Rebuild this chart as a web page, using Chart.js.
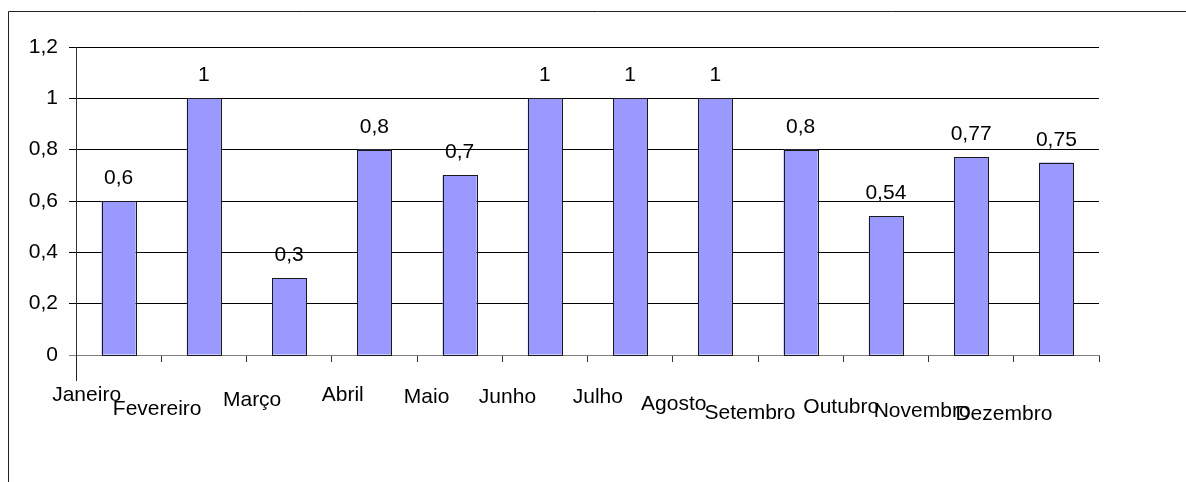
<!DOCTYPE html>
<html>
<head>
<meta charset="utf-8">
<script src="https://cdn.jsdelivr.net/npm/chart.js@4/dist/chart.umd.min.js"></script>
<style>
  html, body { margin: 0; padding: 0; background: #fff; }
  #wrap { width: 1186px; height: 482px; position: relative; }
</style>
</head>
<body>
<div id="wrap"><canvas id="c" width="1186" height="482"></canvas></div>
<script>
// ---- data ----
const categories = ['Janeiro','Fevereiro','Março','Abril','Maio','Junho','Julho','Agosto','Setembro','Outubro','Novembro','Dezembro'];
const values = [0.6, 1, 0.3, 0.8, 0.7, 1, 1, 1, 0.8, 0.54, 0.77, 0.75];
const yTicks = [0, 0.2, 0.4, 0.6, 0.8, 1, 1.2];

// ---- label placement (style) ----
const labelDx = [-32, -46.7, -37, -31.6, -33, -37.4, -32.3, -41.6, -50.6, -44.6, -49, -52.5];
const labelDy = [46, 60, 51, 46, 48, 48, 48, 55, 64, 58, 62, 65];

const FONT_FAMILY = '"Liberation Sans", Arial, sans-serif';
const FONT_SIZE = 21;
const fmt = v => String(Number(v.toFixed(2))).replace('.', ',');

const decorPlugin = {
  id: 'decor',
  afterDatasetsDraw(chart) {
    // crisp outlines around the library's own bar elements
    const ctx = chart.ctx;
    const meta = chart.getDatasetMeta(0);
    ctx.save();
    ctx.strokeStyle = '#1a1a1a';
    ctx.lineWidth = 1;
    meta.data.forEach(bar => {
      const l = Math.round(bar.x - bar.width / 2);
      const r = Math.round(bar.x + bar.width / 2);
      const t = Math.round(bar.y);
      const b = Math.round(bar.base);
      ctx.strokeRect(l + 0.5, t + 0.5, r - l, b - t);
    });
    ctx.restore();
  },
  afterDraw(chart) {
    const ctx = chart.ctx;
    const area = chart.chartArea;
    const xs = chart.scales.x;
    ctx.save();
    // outer border (top and left; right/bottom lie beyond the window)
    ctx.strokeStyle = '#222';
    ctx.lineWidth = 1;
    ctx.beginPath();
    ctx.moveTo(8.5, chart.height + 1);
    ctx.lineTo(8.5, 11.5);
    ctx.lineTo(chart.width + 1, 11.5);
    ctx.stroke();
    // long first tick below the axis
    const lx = Math.round(area.left) + 0.5;
    ctx.strokeStyle = '#222';
    ctx.beginPath();
    ctx.moveTo(lx, area.bottom);
    ctx.lineTo(lx, area.bottom + 26);
    ctx.stroke();

    ctx.fillStyle = '#000';
    ctx.font = FONT_SIZE + 'px ' + FONT_FAMILY;
    ctx.textAlign = 'center';
    ctx.textBaseline = 'alphabetic';
    // category labels
    categories.forEach((c, i) => {
      const x = xs.getPixelForValue(i) + labelDx[i];
      const y = area.bottom + labelDy[i];
      ctx.fillText(c, x, y);
    });
    // data labels
    const meta = chart.getDatasetMeta(0);
    meta.data.forEach((bar, i) => {
      ctx.fillText(fmt(values[i]), bar.x, bar.y - 17);
    });
    ctx.restore();
  }
};

new Chart(document.getElementById('c'), {
  type: 'bar',
  data: {
    labels: categories,
    datasets: [{
      data: values,
      backgroundColor: '#9999FF',
      borderWidth: 0,
      categoryPercentage: 1,
      barPercentage: 0.4
    }]
  },
  options: {
    responsive: false,
    animation: false,
    devicePixelRatio: 1,
    layout: { padding: { left: 0, top: 47, right: 87, bottom: 0 } },
    plugins: { legend: { display: false }, tooltip: { enabled: false } },
    scales: {
      x: {
        offset: true,
        grid: {
          offset: true,
          drawOnChartArea: false,
          drawTicks: true,
          tickLength: 7,
          color: '#333'
        },
        border: { display: true, color: '#808080', width: 1 },
        ticks: { display: false },
        afterFit(scale) { scale.height = 127; }
      },
      y: {
        min: 0,
        max: 1.2,
        afterBuildTicks(scale) { scale.ticks = yTicks.map(v => ({ value: v })); },
        grid: {
          color: ctx => (ctx.tick && ctx.tick.value === 0) ? '#808080' : '#000',
          lineWidth: 1,
          tickLength: 7,
          drawTicks: true
        },
        border: { display: true, color: '#333', width: 1 },
        ticks: {
          padding: 11,
          color: '#000',
          font: { family: FONT_FAMILY, size: FONT_SIZE },
          callback: v => fmt(v)
        },
        afterFit(scale) { scale.width = 76; }
      }
    }
  },
  plugins: [decorPlugin]
});
</script>
</body>
</html>
